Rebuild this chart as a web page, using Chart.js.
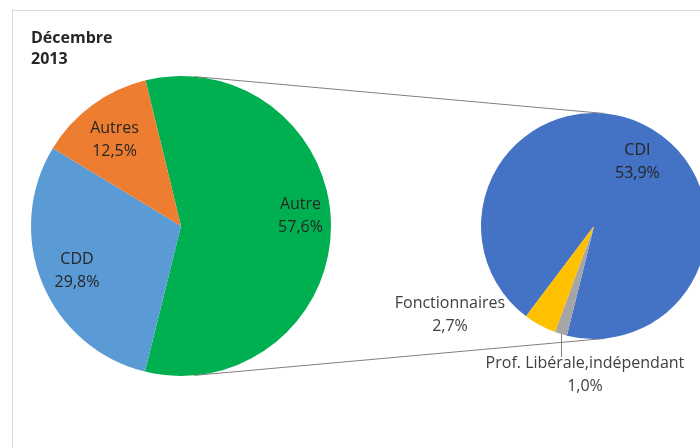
<!DOCTYPE html>
<html lang="fr">
<head>
    <meta charset="UTF-8">
    <title>Décembre 2013</title>
    <script src="https://cdn.jsdelivr.net/npm/chart.js"></script>
    <style>
        body {
            margin: 0;
            background-color: #fff;
            overflow: hidden;
            font-family: "Open Sans", sans-serif;
        }
        .wrap {
            position: relative;
            width: 720px;
            height: 448px;
        }
        .frame {
            position: absolute;
            left: 12px;
            top: 10px;
            width: 800px;
            height: 500px;
            border: 1px solid #d9d9d9;
        }
        canvas {
            position: absolute;
            left: 0;
            top: 0;
        }
    </style>
</head>
<body>
    <div class="wrap">
        <div class="frame"></div>
        <canvas id="mainPie" width="720" height="448"></canvas>
        <canvas id="detailPie" width="720" height="448"></canvas>
    </div>

    <script>
        // first pie
        const mainLabels = ['Autre', 'CDD', 'Autres'];
        const mainValues = [57.6, 29.8, 12.5];
        const mainColors = ['#00b050', '#5b9bd5', '#ed7d31'];

        // second pie (split of "Autre"), in clockwise drawing order
        const detailLabels = ['CDI', 'Prof. Libérale,indépendant', 'Fonctionnaires'];
        const detailValues = [53.9, 1.0, 2.7];
        const detailColors = ['#4472c4', '#a5a5a5', '#ffc000'];

        const titleLines = ['Décembre', '2013'];

        const fmt = v => v.toFixed(1).replace('.', ',') + '%';

        // draws "name / value%" labels, inside or next to the slice
        const pieLabels = {
            id: 'pieLabels',
            afterDatasetsDraw(chart, args, opts) {
                const ctx = chart.ctx;
                const ds = chart.data.datasets[0];
                const meta = chart.getDatasetMeta(0);
                ctx.save();
                ctx.font = '16px "Open Sans"';
                ctx.textAlign = 'center';
                ctx.textBaseline = 'middle';
                meta.data.forEach((arc, i) => {
                    const p = arc.getProps(['x', 'y', 'startAngle', 'endAngle', 'outerRadius'], true);
                    const mid = (p.startAngle + p.endAngle) / 2;
                    const place = opts.place[i] || {};
                    const rr = place.edge ? p.outerRadius : p.outerRadius * (place.r || 0.75);
                    const ax = p.x + rr * Math.cos(mid);
                    const ay = p.y + rr * Math.sin(mid);
                    const lx = ax + (place.dx || 0);
                    const ly = ay + (place.dy || 0);
                    if (place.leader) {
                        ctx.strokeStyle = '#7f7f7f';
                        ctx.lineWidth = 1;
                        ctx.beginPath();
                        ctx.moveTo(Math.round(ax) + 0.5, ay);
                        ctx.lineTo(Math.round(ax) + 0.5, ly - 18);
                        ctx.stroke();
                    }
                    ctx.fillStyle = place.edge ? '#404040' : '#262626';
                    ctx.fillText(chart.data.labels[i], lx, ly - 11.5);
                    ctx.fillText(fmt(ds.data[i]), lx, ly + 11.5);
                });
                ctx.restore();
            }
        };

        const mainChart = new Chart(document.getElementById('mainPie'), {
            type: 'pie',
            data: {
                labels: mainLabels,
                datasets: [{
                    data: mainValues,
                    backgroundColor: mainColors,
                    borderWidth: 0
                }]
            },
            options: {
                responsive: false,
                animation: false,
                // split slice centred on 3 o'clock, facing the second pie
                rotation: 90 - mainValues[0] / 100 * 180,
                layout: { padding: { left: 31, right: 389, top: 28, bottom: 72 } },
                plugins: {
                    legend: { display: false },
                    tooltip: { enabled: false },
                    title: {
                        display: true,
                        text: titleLines,
                        align: 'start',
                        color: '#262626',
                        font: { family: 'Open Sans', size: 16, weight: 'bold', lineHeight: 1.3125 },
                        padding: { top: 0, bottom: 6 }
                    },
                    pieLabels: {
                        place: [
                            { r: 0.75, dx: 7, dy: -10 },
                            { r: 0.75, dx: 0, dy: 2 },
                            { r: 0.75, dx: 0, dy: 5 }
                        ]
                    }
                }
            },
            plugins: [pieLabels]
        });

        // lines joining the two pies: outer common tangents
        const seriesLines = {
            id: 'seriesLines',
            beforeDatasetsDraw(chart) {
                const a = mainChart.getDatasetMeta(0).data[0];
                const b = chart.getDatasetMeta(0).data[0];
                if (!a || !b) return;
                const r1 = a.outerRadius, r2 = b.outerRadius;
                const dx = b.x - a.x, dy = b.y - a.y;
                const d = Math.hypot(dx, dy);
                const th = Math.atan2(dy, dx);
                const al = Math.acos((r1 - r2) / d);
                const ctx = chart.ctx;
                ctx.save();
                ctx.strokeStyle = '#7f7f7f';
                ctx.lineWidth = 1;
                [th - al, th + al].forEach(phi => {
                    ctx.beginPath();
                    ctx.moveTo(a.x + r1 * Math.cos(phi), a.y + r1 * Math.sin(phi));
                    ctx.lineTo(b.x + r2 * Math.cos(phi), b.y + r2 * Math.sin(phi));
                    ctx.stroke();
                });
                ctx.restore();
            }
        };

        new Chart(document.getElementById('detailPie'), {
            type: 'pie',
            data: {
                labels: detailLabels,
                datasets: [{
                    data: detailValues,
                    backgroundColor: detailColors,
                    borderWidth: 0
                }]
            },
            options: {
                responsive: false,
                animation: false,
                rotation: 217,
                layout: { padding: { left: 481, right: 13, top: 113, bottom: 109 } },
                plugins: {
                    legend: { display: false },
                    tooltip: { enabled: false },
                    title: { display: false },
                    pieLabels: {
                        place: [
                            { r: 0.75, dx: 7, dy: 12 },
                            { edge: true, leader: true, dx: 24, dy: 41 },
                            { edge: true, dx: -90, dy: -10 }
                        ]
                    }
                }
            },
            plugins: [pieLabels, seriesLines]
        });
    </script>
</body>
</html>
